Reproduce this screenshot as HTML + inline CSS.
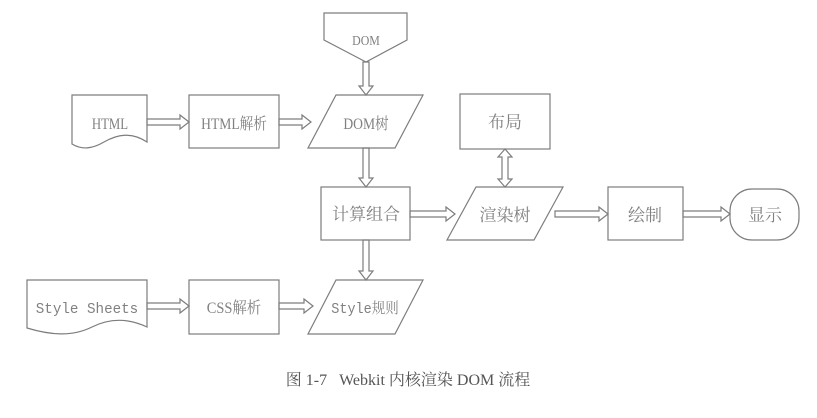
<!DOCTYPE html>
<html><head><meta charset="utf-8"><style>
html,body{margin:0;padding:0;background:#fff;}
svg text{fill:#808080;}
</style></head><body>
<svg width="817" height="413" viewBox="0 0 817 413" xmlns="http://www.w3.org/2000/svg">
<g fill="none" stroke="#7d7d7d" stroke-width="1.2">
<polygon points="324,13 407,13 407,40 366,62 324,40"/>
<path d="M72,95 H147 V142 C132,132 118,134 104,142 C92,149 82,150 72,144 Z"/>
<rect x="189" y="95" width="90" height="53"/>
<polygon points="336,95 423,95 395,148 308,148"/>
<rect x="321" y="187" width="89" height="53"/>
<polygon points="336,280 423,280 395,334 308,334"/>
<path d="M27,280 H147 V327 C128,318 110,318 92,327 C72,337 50,335 27,328 Z"/>
<rect x="189" y="280" width="90" height="54"/>
<rect x="460" y="94" width="90" height="55"/>
<polygon points="476,187 563,187 534,240 447,240"/>
<rect x="608" y="187" width="75" height="53"/>
<rect x="730" y="189" width="69" height="51" rx="22" ry="22"/>
<polygon points="147,119 180,119 180,115 189,122 180,129 180,125 147,125"/>
<polygon points="279,119 302,119 302,115 311,122 302,129 302,125 279,125"/>
<polygon points="147,303 180,303 180,299 189,306 180,313 180,309 147,309"/>
<polygon points="279,303 304,303 304,299 313,306 304,313 304,309 279,309"/>
<polygon points="410,211 446,211 446,207 455,214 446,221 446,217 410,217"/>
<polygon points="555,211 599,211 599,207 608,214 599,221 599,217 555,217"/>
<polygon points="683,211 721,211 721,207 730,214 721,221 721,217 683,217"/>
<polygon points="363,62 369,62 369,86 373,86 366,95 359,86 363,86"/>
<polygon points="363,148 369,148 369,178 373,178 366,187 359,178 363,178"/>
<polygon points="363,240 369,240 369,271 373,271 366,280 359,271 363,271"/>
<polygon points="505,149 512,157 508,157 508,179 512,179 505,187 498,179 502,179 502,157 498,157"/>
</g>
<g font-family="Liberation Serif, 'Noto Serif CJK SC', serif" font-size="16" text-anchor="middle">
<text x="366" y="45" font-size="14" transform="translate(366 0) scale(0.85 1) translate(-366 0)">DOM</text>
<text x="110" y="129" font-size="16" transform="translate(110 0) scale(0.8 1) translate(-110 0)">HTML</text>
<text x="234" y="129" font-size="16" transform="translate(234 0) scale(0.85 1) translate(-234 0)">HTML解析</text>
<text x="366" y="129" font-size="16" transform="translate(366 0) scale(0.85 1) translate(-366 0)">DOM树</text>
<text x="366" y="220" font-family="'Noto Serif CJK SC', serif" font-size="17">计算组合</text>
<text x="365" y="313" font-family="Liberation Mono, 'Noto Serif CJK SC', monospace" font-size="15" transform="translate(365 0) scale(0.9 1) translate(-365 0)">Style规则</text>
<text x="87" y="313" font-family="Liberation Mono, monospace" font-size="15" transform="translate(87 0) scale(0.95 1) translate(-87 0)">Style Sheets</text>
<text x="234" y="313" font-size="16" transform="translate(234 0) scale(0.9 1) translate(-234 0)">CSS解析</text>
<text x="505" y="128" font-family="'Noto Serif CJK SC', serif" font-size="17">布局</text>
<text x="505" y="221" font-family="'Noto Serif CJK SC', serif" font-size="17">渲染树</text>
<text x="645" y="221" font-family="'Noto Serif CJK SC', serif" font-size="17">绘制</text>
<text x="765" y="221" font-family="'Noto Serif CJK SC', serif" font-size="17">显示</text>
</g>
<text x="408" y="385" text-anchor="middle" font-family="Liberation Serif, 'Noto Serif CJK SC', serif" font-size="16" style="fill:#555" xml:space="preserve">图 1-7   Webkit 内核渲染 DOM 流程</text>
</svg>
</body></html>
